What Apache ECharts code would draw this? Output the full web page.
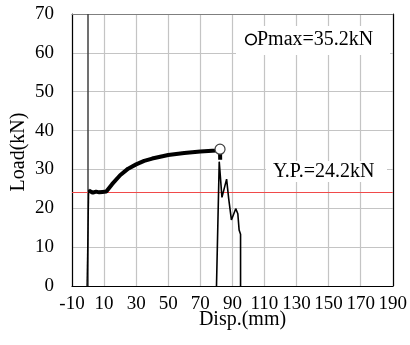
<!DOCTYPE html>
<html><head><meta charset="utf-8">
<script src="https://cdn.jsdelivr.net/npm/echarts@6/dist/echarts.min.js"></script>
<style>html,body{margin:0;padding:0;background:#fff}#c{width:410px;height:345px}</style>
</head><body><div id="c"></div>
<script>
// Data (Disp. in mm, Load in kN)
const riseDisp = [-0.6, 0.4];
const riseLoad = [0, 24.8];
const curveDisp = [0.4, 1, 3, 5, 7, 9, 11.4, 15, 20, 25, 30, 35, 40, 50, 60, 70, 80, 82.3, 82.4];
const curveLoad = [24.6, 24.3, 24.0, 24.3, 24.1, 24.2, 24.3, 26.2, 28.5, 30.2, 31.3, 32.2, 32.8, 33.7, 34.2, 34.6, 34.9, 35.2, 32.5];
const dropDisp = [80.1, 81.8, 82.4, 83.5, 86.4, 87.7, 89.4, 92.1, 93.4, 94.2, 95.1, 95.1];
const dropLoad = [0, 32.0, 32.5, 22.8, 27.5, 22.5, 17.0, 19.9, 18.6, 14.4, 13.3, 0];
const peakDisp = 82.3, peakLoad = 35.2;
const ypLoad = 24.2;
const xName = 'Disp.(mm)', yName = 'Load(kN)';
const pmaxText = 'Pmax=35.2kN', ypText = 'Y.P.=24.2kN';

const zip = (a, b) => a.map((v, i) => [v, b[i]]);
const FONT = '"Liberation Serif", "Times New Roman", serif';
const GRID = { show: true, lineStyle: { color: '#c4c4c4', width: 1.2, type: 'solid' } };
const chart = echarts.init(document.getElementById('c'));
chart.setOption({
  animation: false,
  backgroundColor: '#fff',
  grid: { left: 72, right: 13, top: 14, bottom: 59 },
  xAxis: [{
    type: 'value', min: -10, max: 190, interval: 20, position: 'bottom',
    axisLine: { onZero: false, lineStyle: { color: '#000', width: 1.2 } },
    axisTick: { show: false },
    axisLabel: { color: '#000', fontFamily: FONT, fontSize: 19, margin: 9 },
    splitLine: GRID
  }, {
    type: 'value', min: -10, max: 190, interval: 20, position: 'top',
    axisLine: { onZero: false, lineStyle: { color: '#7f7f7f', width: 1.2 } },
    axisTick: { show: false }, axisLabel: { show: false }, splitLine: { show: false }
  }],
  yAxis: [{
    type: 'value', min: 0, max: 70, interval: 10, position: 'left',
    axisLine: { show: true, onZero: false, lineStyle: { color: '#000', width: 1.2 } },
    axisTick: { show: false },
    axisLabel: { color: '#000', fontFamily: FONT, fontSize: 19, margin: 18 },
    splitLine: GRID
  }, {
    type: 'value', min: 0, max: 70, interval: 10, position: 'right',
    axisLine: { show: true, onZero: false, lineStyle: { color: '#000', width: 1.2 } },
    axisTick: { show: false }, axisLabel: { show: false }, splitLine: { show: false }
  }],
  series: [{
    type: 'line', data: zip(riseDisp, riseLoad), symbol: 'none', z: 5,
    lineStyle: { color: '#000', width: 1.4 },
    markLine: {
      silent: true, symbol: 'none', label: { show: false },
      data: [
        { xAxis: 0, lineStyle: { color: '#404040', width: 1.5, type: 'solid' } },
        { yAxis: ypLoad, lineStyle: { color: '#f04a4a', width: 1.2, type: 'solid' } }
      ]
    }
  }, {
    type: 'line', data: zip(curveDisp, curveLoad), symbol: 'none', z: 5,
    lineStyle: { color: '#000', width: 4 }
  }, {
    type: 'line', data: zip(dropDisp, dropLoad), symbol: 'none', z: 5,
    lineStyle: { color: '#000', width: 1.6 }
  }, {
    type: 'scatter', data: [[peakDisp, peakLoad]], symbol: 'circle', symbolSize: 10, z: 6,
    itemStyle: { color: '#fff', borderColor: '#404040', borderWidth: 1.2, opacity: 1 }
  }],
  graphic: [
    { type: 'rect', z: 50, shape: { x: 236, y: 26, width: 154, height: 29 }, style: { fill: '#fff' } },
    { type: 'circle', z: 51, shape: { cx: 251, cy: 39.5, r: 5.3 }, style: { fill: '#fff', stroke: '#000', lineWidth: 1.6 } },
    { type: 'text', z: 51, x: 257, y: 39.5, style: { text: pmaxText, font: '20px ' + FONT, fill: '#000', textAlign: 'left', textVerticalAlign: 'middle', align: 'left', verticalAlign: 'middle' } },
    { type: 'rect', z: 50, shape: { x: 266, y: 161, width: 121, height: 21 }, style: { fill: '#fff' } },
    { type: 'text', z: 51, x: 273, y: 172, style: { text: ypText, font: '20px ' + FONT, fill: '#000', textAlign: 'left', textVerticalAlign: 'middle', align: 'left', verticalAlign: 'middle' } },
    { type: 'text', z: 51, x: 242.5, y: 320, style: { text: xName, font: '20px ' + FONT, fill: '#000', textAlign: 'center', textVerticalAlign: 'middle', align: 'center', verticalAlign: 'middle' } },
    { type: 'text', z: 51, x: 19, y: 152, rotation: Math.PI / 2, style: { text: yName, font: '20px ' + FONT, fill: '#000', textAlign: 'center', textVerticalAlign: 'middle', align: 'center', verticalAlign: 'middle' } }
  ]
});
</script></body></html>
